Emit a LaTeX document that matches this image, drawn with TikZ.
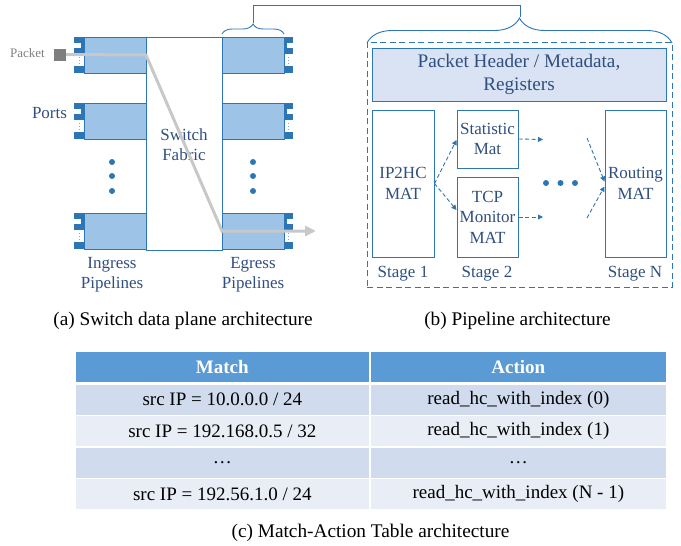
\documentclass[tikz,border=0pt]{standalone}
\usepackage{fontspec}
\setmainfont{Liberation Serif}
\usetikzlibrary{decorations.pathreplacing,arrows.meta}
\definecolor{dblue}{HTML}{2E75B6}
\definecolor{lblue}{HTML}{9DC3E6}
\definecolor{hblue}{HTML}{DAE3F3}
\definecolor{tblue}{HTML}{2F4F7F}
\definecolor{pgray}{HTML}{7F7F7F}
\definecolor{lgray}{HTML}{C8C8C8}
\definecolor{thead}{HTML}{5B9BD5}
\definecolor{rowa}{HTML}{D0DCEE}
\definecolor{rowb}{HTML}{E8EDF6}
\tikzset{
  pipebox/.style={draw=dblue, fill=lblue, line width=0.8pt, minimum width=62pt, minimum height=36pt, inner sep=0pt},
  lbl/.style={text=tblue, font=\fontsize{17}{20}\selectfont, align=center, inner sep=0pt},
  matbox/.style={draw=dblue, line width=1pt, fill=white, inner sep=0pt, align=center, text=tblue, font=\fontsize{17}{20.5}\selectfont},
  darr/.style={dblue, dash pattern=on 4pt off 2.5pt, line width=0.9pt, -{Triangle[length=5pt,width=5pt]}},
  dotnode/.style={circle, fill=dblue, inner sep=0pt, minimum size=6pt},
  captxt/.style={text=black, font=\fontsize{19.3}{22}\selectfont, inner sep=0pt},
  cell/.style={inner sep=0pt, minimum height=30pt, font=\fontsize{19}{22}\selectfont},
  colA/.style={cell, minimum width=293.3pt},
  colB/.style={cell, minimum width=294.7pt},
  hcell/.style={fill=thead, text=white, font=\fontsize{19}{22}\selectfont\bfseries},
}
\begin{document}
\begin{tikzpicture}[x=1pt,y=-1pt]
\useasboundingbox (0,0) rectangle (681,546);
% switch fabric
\node[draw=dblue, line width=1pt, minimum width=76pt, minimum height=213pt, inner sep=0pt] (fab) at (184,143.5) {};
\node[lbl] (fabt) at (184,145) {Switch\\Fabric};
% ingress and egress pipelines with port tabs
\foreach \y [count=\i] in {37,103,213} {
  \node[pipebox] (in\i) at (115,\y+18) {};
  \node[pipebox] (eg\i) at (253,\y+18) {};
  \fill[dblue] (74,\y) rectangle (84,\y+6);
  \fill[dblue] (81,\y+6) rectangle (84,\y+11);
  \fill[dblue] (74,\y+11) rectangle (84,\y+17);
  \fill[dblue] (74,\y+29) rectangle (84,\y+36);
  \draw[dblue!60, dotted, line width=1pt] (79,\y+20) -- (79,\y+28);
  \fill[dblue] (284,\y) rectangle (293,\y+6);
  \fill[dblue] (284,\y+6) rectangle (287,\y+11);
  \fill[dblue] (284,\y+11) rectangle (293,\y+17);
  \fill[dblue] (284,\y+29) rectangle (293,\y+36);
  \draw[dblue!60, dotted, line width=1pt] (288,\y+20) -- (288,\y+28);
}
\foreach \yy [count=\j] in {162,176,191} {
  \node[dotnode] (ld\j) at (112,\yy) {};
  \node[dotnode] (rd\j) at (253,\yy) {};
}
\node[lbl] (ports) at (49.5,113) {Ports};
\node[lbl] (ingt) at (112,275) {Ingress\\Pipelines};
\node[lbl] (egt) at (253,275) {Egress\\Pipelines};
\node[text=pgray, font=\fontsize{13}{15}\selectfont, inner sep=0pt] (pktt) at (27.5,53) {Packet};
% packet path
\node[fill=pgray, minimum size=12pt, inner sep=0pt] (pkt) at (60,54.5) {};
\coordinate (g1) at (146,55);
\coordinate (g2) at (222,231);
\coordinate (gend) at (316,231);
\draw[lgray, line width=3pt, -{Triangle[length=11pt,width=10pt]}] (pkt.east) -- (g1) -- (g2) -- (gend);
% braces
\coordinate (bt1) at (253,23);
\coordinate (bt2) at (520,17);
\draw[dblue, line width=0.9pt, decorate, decoration={brace, amplitude=10pt}] (222,34) -- (284,34);
\draw[dblue, line width=0.9pt, decorate, decoration={brace, amplitude=25pt, aspect=0.5}] (367,43) -- (672,43);
\draw[dblue, line width=0.9pt] (bt1) -- (253,5) -- (520,5) -- (bt2);
% pipeline
\node[draw=dblue, dash pattern=on 6pt off 3.5pt, line width=1pt, minimum width=305pt, minimum height=245pt, inner sep=0pt] (pipe) at (519.5,164.5) {};
\node[draw=dblue, fill=hblue, line width=1pt, minimum width=294pt, minimum height=53pt, inner sep=0pt, align=center, text=tblue, font=\fontsize{19.2}{23.4}\selectfont] (hdr) at (519,74.5) {Packet Header / Metadata,\\Registers};
\node[matbox, minimum width=62pt, minimum height=147pt] (s1) at (403,183.5) {IP2HC\\MAT};
\node[matbox, minimum width=61pt, minimum height=58pt] (stat) at (487.5,139) {Statistic\\Mat};
\node[matbox, minimum width=61pt, minimum height=80pt] (tcp) at (487.5,217) {TCP\\Monitor\\MAT};
\node[matbox, minimum width=61pt, minimum height=147pt] (rout) at (635.5,183.5) {Routing\\MAT};
\node[dotnode] (m1) at (546,183) {};
\node[dotnode] (m2) at (560.5,183) {};
\node[dotnode] (m3) at (575,183) {};
\coordinate (a1) at (543,139.5);
\coordinate (a2) at (543,217);
\coordinate (a3) at (587,138);
\coordinate (a4) at (587,218);
\draw[darr] (s1.east) -- ([yshift=-1pt]stat.west);
\draw[darr] (s1.east) -- ([yshift=7pt]tcp.west);
\draw[darr] (stat.east) -- (a1);
\draw[darr] (tcp.east) -- (a2);
\draw[darr] (a3) -- ([yshift=2pt]rout.west);
\draw[darr] (a4) -- ([yshift=-3pt]rout.west);
\node[lbl] (st1) at (403,274) {Stage 1};
\node[lbl] (st2) at (487,274) {Stage 2};
\node[lbl] (stn) at (635,274) {Stage N};
% captions
\node[captxt] (capa) at (183,321) {(a) Switch data plane architecture};
\node[captxt] (capb) at (517.5,321) {(b) Pipeline architecture};
% table
\node[colA, hcell] (h1) at (222.35,367) {Match};
\node[colB, hcell] (h2) at (518.35,367) {Action};
\node[colA, fill=rowa] (r1a) at (222.35,399.5) {src IP = 10.0.0.0 / 24};
\node[colB, fill=rowa] (r1b) at (518.35,399.5) {read\_hc\_with\_index (0)};
\node[colA, fill=rowb] (r2a) at (222.35,431) {src IP = 192.168.0.5 / 32};
\node[colB, fill=rowb] (r2b) at (518.35,431) {read\_hc\_with\_index (1)};
\node[colA, fill=rowa] (r3a) at (222.35,462.5) {…};
\node[colB, fill=rowa] (r3b) at (518.35,462.5) {…};
\node[colA, fill=rowb] (r4a) at (222.35,494) {src IP = 192.56.1.0 / 24};
\node[colB, fill=rowb] (r4b) at (518.35,494) {read\_hc\_with\_index (N - 1)};
\node[captxt] (capc) at (370.5,533) {(c) Match-Action Table architecture};
\end{tikzpicture}
\end{document}
